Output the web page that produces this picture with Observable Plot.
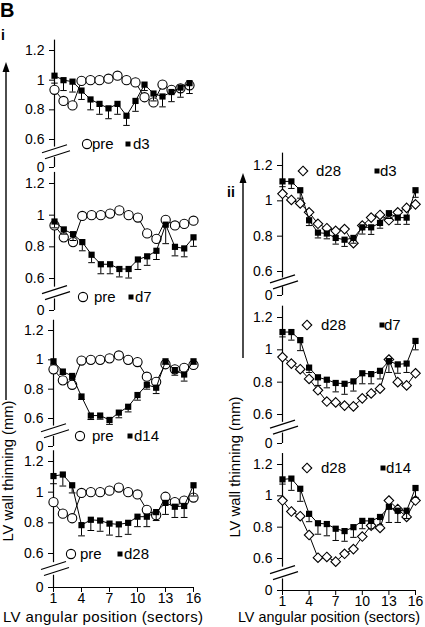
<!DOCTYPE html>
<html><head><meta charset="utf-8">
<script src="https://cdn.jsdelivr.net/npm/d3@7"></script>
<script src="https://cdn.jsdelivr.net/npm/@observablehq/plot@0.6"></script>
<style>
html,body{margin:0;padding:0;background:#fff;}
#fig{position:relative;width:425px;height:627px;overflow:hidden;background:#fff;font-family:"Liberation Sans",Arial,sans-serif;}
#fig svg{position:absolute;left:0;top:0;background:transparent !important;overflow:visible;}
</style></head><body><div id="fig"></div>
<script>
// ---------- data ----------
const sectors = [1,2,3,4,5,6,7,8,9,10,11,12,13,14,15,16];
const xTicks = [1,4,7,10,13,16];
const yTicks = [0,0.6,0.8,1,1.2];

const pre    = [0.935,0.86,0.83,0.995,1.0,1.0,1.01,1.03,1.0,0.985,0.885,0.85,0.97,0.935,0.945,0.965];
const day3   = [1.03,1.0,0.99,0.93,0.87,0.84,0.81,0.84,0.76,0.86,0.97,0.91,0.89,0.92,0.95,0.98];
const day3Err= [0.05,0.07,0.07,0.06,0.07,0.07,0.07,0.07,0.065,0.07,0.04,0.05,0.07,0.065,0.065,0.07];
const day7   = [0.96,0.91,0.88,0.83,0.75,0.69,0.69,0.66,0.66,0.72,0.74,0.775,0.94,0.80,0.79,0.86];
const day7Err= [0.04,0.03,0.04,0.055,0.05,0.06,0.06,0.05,0.057,0.063,0.057,0.055,0.12,0.057,0.053,0.057];
const day14  = [0.99,0.92,0.89,0.75,0.62,0.62,0.59,0.64,0.68,0.76,0.83,0.81,0.99,0.93,0.90,0.99];
const day14Err=[0.02,0.02,0.025,0.02,0.027,0.025,0.03,0.035,0.035,0.035,0.03,0.04,0.02,0.035,0.045,0.02];
const day28  = [1.105,1.115,1.045,0.785,0.82,0.815,0.795,0.79,0.80,0.84,0.84,0.87,0.93,0.905,0.91,1.045];
const day28Err=[0.05,0.075,0.05,0.07,0.07,0.07,0.075,0.08,0.075,0.065,0.065,0.055,0.075,0.07,0.075,0.07];

const d28a   = [1.04,1.005,0.985,0.935,0.87,0.845,0.83,0.84,0.76,0.86,0.905,0.92,0.89,0.935,0.96,0.98];
const cmp3   = [1.11,1.11,1.06,0.89,0.82,0.815,0.79,0.78,0.79,0.85,0.85,0.875,0.93,0.905,0.905,1.06];
const cmp3Err= [0.03,0.04,0.045,0.03,0.03,0.03,0.035,0.038,0.03,0.038,0.04,0.03,0.03,0.038,0.038,0.04];
const d28b   = [0.955,0.915,0.88,0.82,0.75,0.68,0.675,0.655,0.65,0.70,0.73,0.76,0.94,0.80,0.78,0.855];
const cmp7   = [1.11,1.11,1.06,0.89,0.83,0.815,0.795,0.79,0.805,0.855,0.85,0.87,0.93,0.91,0.915,1.055];
const cmp7Err= [0.03,0.05,0.065,0.03,0.05,0.05,0.055,0.065,0.06,0.065,0.06,0.05,0.07,0.055,0.055,0.055];
const d28c   = [0.97,0.90,0.87,0.75,0.605,0.61,0.58,0.63,0.66,0.74,0.81,0.795,0.97,0.915,0.865,0.97];
const cmp14  = [1.105,1.11,1.045,0.885,0.825,0.82,0.79,0.775,0.80,0.84,0.84,0.865,0.93,0.905,0.905,1.05];
const cmp14Err=[0.03,0.075,0.08,0.05,0.07,0.075,0.075,0.065,0.065,0.05,0.05,0.05,0.1,0.075,0.05,0.06];

const seriesNames = {pre:"pre", d3:"d3", d7:"d7", d14:"d14", d28:"d28"};
const xLabel = "LV angular position (sectors)";
const yLabel = "LV wall thinning (mm)";

// ---------- layout ----------
const W = 425, H = 627;
const FONT = "'Liberation Sans', Arial, sans-serif";
const panels = [
  {open: pre,  openSym:"circle",   openName:seriesNames.pre, closed: day3,  err: day3Err,  closedName:seriesNames.d3,  xr:[54,189], yr:[167,139,50],  xAxis:false, leg:[87,144,92,128,133]},
  {open: pre,  openSym:"circle",   openName:seriesNames.pre, closed: day7,  err: day7Err,  closedName:seriesNames.d7,  xr:[54,193], yr:[310,278,183], xAxis:false, leg:[83,297,94,131,135]},
  {open: pre,  openSym:"circle",   openName:seriesNames.pre, closed: day14, err: day14Err, closedName:seriesNames.d14, xr:[53,193], yr:[446,418,330], xAxis:false, leg:[80,436,92,130,134]},
  {open: pre,  openSym:"circle",   openName:seriesNames.pre, closed: day28, err: day28Err, closedName:seriesNames.d28, xr:[53,193], yr:[587,553,461], xAxis:true,  leg:[71,554,80,120,124]},
  {open: d28a, openSym:"diamond2", openName:seriesNames.d28, closed: cmp3,  err: cmp3Err,  closedName:seriesNames.d3,  xr:[282,415], yr:[295,271,165], xAxis:false, leg:[303,171,316,377,380]},
  {open: d28b, openSym:"diamond2", openName:seriesNames.d28, closed: cmp7,  err: cmp7Err,  closedName:seriesNames.d7,  xr:[282,415], yr:[443,414,317], xAxis:false, leg:[307,325,321,382,384]},
  {open: d28c, openSym:"diamond2", openName:seriesNames.d28, closed: cmp14, err: cmp14Err, closedName:seriesNames.d14, xr:[282,415], yr:[590,558,464], xAxis:true,  leg:[307,468,321,383,386]}
];

const fig = document.getElementById("fig");

panels.forEach(p => {
  const [y0, y06, y12] = p.yr;
  const ppu = (y06 - y12) / 0.6;          // pixels per unit above the break
  const gap = y0 - y06;
  const base = 0.6 - gap / ppu;           // value sitting at the "0" tick (axis break)
  const upEnd = 0.6 - 0.27 * gap / ppu;
  const lowStart = base + 0.36 * gap / ppu;
  const ticks = yTicks.map(t => t === 0 ? base : t);

  const breakMark = (index, scales) => {
    const x0 = scales.x(1);
    const ym = (scales.y(upEnd) + scales.y(lowStart)) / 2;
    const g = d3.create("svg:g").attr("stroke","#000").attr("stroke-width",1.2).attr("fill","none");
    [[-12,-3],[-9,3]].forEach(([dx,dy]) => {
      g.append("line").attr("x1", x0+dx).attr("y1", ym+dy+4).attr("x2", x0+dx+25).attr("y2", ym+dy-4);
    });
    return g.node();
  };

  const rows = sectors.map((s,i) => ({s, open:p.open[i], closed:p.closed[i], lo:p.closed[i]-p.err[i]}));
  const marks = [
    Plot.ruleX([1], {y1:upEnd, y2:1.27, stroke:"#000", strokeWidth:1.2}),
    Plot.ruleX([1], {y1:base, y2:lowStart, stroke:"#000", strokeWidth:1.2}),
    breakMark,
    Plot.line(rows, {x:"s", y:"open", stroke:"#000", strokeWidth:1}),
    Plot.dot(rows, {x:"s", y:"open", r: p.openSym==="circle" ? 4.6 : 4.3, symbol:p.openSym, fill:"#fff", stroke:"#000", strokeWidth:1.1}),
    Plot.ruleX(rows, {x:"s", y1:"lo", y2:"closed", stroke:"#000", strokeWidth:1}),
    Plot.link(rows, {x1:d=>d.s-0.36, x2:d=>d.s+0.36, y1:"lo", y2:"lo", stroke:"#000", strokeWidth:1}),
    Plot.line(rows, {x:"s", y:"closed", stroke:"#000", strokeWidth:1}),
    Plot.dot(rows, {x:"s", y:"closed", symbol:"square", r:3.5, fill:"#000", stroke:"none"})
  ];
  if (p.xAxis) marks.push(Plot.ruleY([base], {x1:1, x2:16, stroke:"#000", strokeWidth:1.2}));
  const chart = Plot.plot({
    width: W, height: H,
    marginLeft: p.xr[0], marginRight: W - p.xr[1], marginTop: y12, marginBottom: H - y0,
    style: {background:"transparent", fontFamily: FONT, fontSize:"14px", color:"#000", overflow:"visible"},
    x: {domain:[1,16], range:p.xr, ticks:xTicks, tickSize:5, tickPadding:1, axis: p.xAxis ? "bottom" : null, label:null},
    y: {type:"linear", domain:[base,1.2], range:[y0,y12], ticks, tickFormat:d => d === base ? "0" : String(d), tickSize:5, tickPadding:5, label:null},
    marks
  });
  fig.appendChild(chart);
});

// ---------- overlay: legends, arrows, labels ----------
const ov = d3.select(fig).append("svg").attr("width",W).attr("height",H)
  .style("font-family", FONT);

panels.forEach(p => {
  const [ox, oy, tx, sx, tx2] = p.leg;
  const sym = p.openSym==="circle" ? d3.symbolCircle : d3.symbolDiamond2;
  const r = p.openSym==="circle" ? 4.6 : 4.3;
  ov.append("path").attr("d", d3.symbol(sym, r*r*Math.PI)()).attr("transform",`translate(${ox},${oy})`)
    .attr("fill","#fff").attr("stroke","#000").attr("stroke-width",1.1);
  ov.append("text").attr("x",tx).attr("y",oy).attr("dy","0.36em").attr("font-size",15).text(p.openName);
  ov.append("rect").attr("x",sx-2.5).attr("y",oy-2.5).attr("width",5).attr("height",5).attr("fill","#000");
  ov.append("text").attr("x",tx2).attr("y",oy).attr("dy","0.36em").attr("font-size",15).text(p.closedName);
});

// panel letters
ov.append("text").attr("x",0).attr("y",17).attr("font-size",20).attr("font-weight","bold").text("B");
ov.append("text").attr("x",1).attr("y",40).attr("font-size",14).attr("font-weight","bold").text("i");
ov.append("text").attr("x",227).attr("y",197).attr("font-size",14).attr("font-weight","bold").text("ii");

// arrows
function arrow(x, yTip, yEnd) {
  ov.append("line").attr("x1",x).attr("x2",x).attr("y1",yTip+8).attr("y2",yEnd).attr("stroke","#000").attr("stroke-width",1.4);
  ov.append("path").attr("d",`M${x},${yTip} L${x-3.5},${yTip+10} L${x+3.5},${yTip+10} Z`).attr("fill","#000");
}
arrow(6, 62, 400);
arrow(243, 173, 358);

// axis titles
ov.append("text").attr("transform","translate(13,471) rotate(-90)").attr("text-anchor","middle").attr("font-size",15)
  .attr("textLength",141).attr("lengthAdjust","spacingAndGlyphs").text(yLabel);
ov.append("text").attr("transform","translate(240,467) rotate(-90)").attr("text-anchor","middle").attr("font-size",15)
  .attr("textLength",141).attr("lengthAdjust","spacingAndGlyphs").text(yLabel);
ov.append("text").attr("x",103).attr("y",622).attr("text-anchor","middle").attr("font-size",15)
  .attr("textLength",200).attr("lengthAdjust","spacing").text(xLabel);
ov.append("text").attr("x",329).attr("y",622).attr("text-anchor","middle").attr("font-size",14.4).text(xLabel);
</script></body></html>
